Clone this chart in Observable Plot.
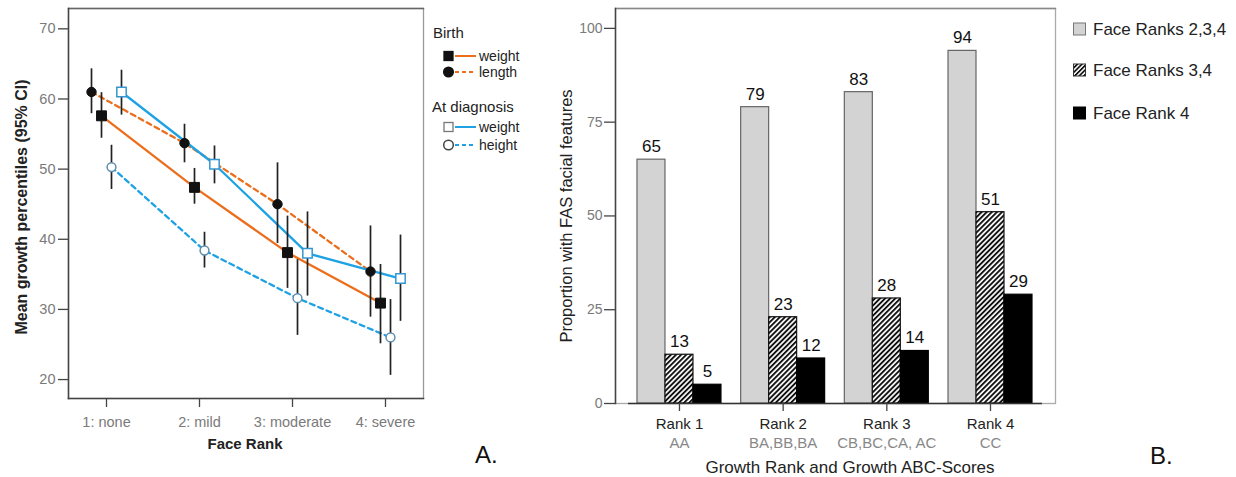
<!DOCTYPE html>
<html><head><meta charset="utf-8">
<script src="https://cdn.jsdelivr.net/npm/d3@7"></script>
<script src="https://cdn.jsdelivr.net/npm/@observablehq/plot@0.6"></script>
<style>
body{margin:0;background:#fff;font-family:"Liberation Sans",Arial,sans-serif;}
#root{position:relative;width:1236px;height:477px;overflow:hidden;background:#fff;}
.t{position:absolute;white-space:nowrap;line-height:1;}
svg{overflow:visible;}
</style></head><body><div id="root"></div>
<script>
// ---------- Panel A data ----------
const faceRanks = ["1: none", "2: mild", "3: moderate", "4: severe"];
const birthWeight   = [57.6, 47.4, 38.1, 30.9];
const birthWeightLo = [54.4, 45.0, 33.0, 25.1];
const birthWeightHi = [60.9, 50.1, 43.3, 36.4];
const birthLength   = [61.0, 53.7, 45.0, 35.4];
const birthLengthLo = [57.9, 50.9, 39.4, 28.9];
const birthLengthHi = [64.3, 56.4, 50.9, 41.9];
const diagWeight    = [61.0, 50.7, 38.0, 34.4];
const diagWeightLo  = [57.7, 47.9, 31.9, 28.3];
const diagWeightHi  = [64.1, 53.3, 43.9, 40.6];
const diagHeight    = [50.3, 38.4, 31.6, 26.0];
const diagHeightLo  = [47.1, 35.9, 26.3, 20.6];
const diagHeightHi  = [53.4, 41.0, 37.1, 31.4];
const yTicksA = [20, 30, 40, 50, 60, 70];

// ---------- Panel B data ----------
const growthRanks = ["Rank 1", "Rank 2", "Rank 3", "Rank 4"];
const abcScores = ["AA", "BA,BB,BA", "CB,BC,CA, AC", "CC"];
const barSeries = ["Face Ranks 2,3,4", "Face Ranks 3,4", "Face Rank 4"];
const faceRanks234 = [65, 79, 83, 94];
const faceRanks34  = [13, 23, 28, 51];
const faceRank4    = [5, 12, 14, 29];
const yTicksB = [0, 25, 50, 75, 100];

const root = document.getElementById("root");
const FONT = "Liberation Sans, Arial, sans-serif";
function addText(txt, x, y, css, anchor = "center") {
  const el = document.createElement("div");
  el.className = "t";
  el.textContent = txt;
  el.style.left = x + "px";
  el.style.top = y + "px";
  const tx = anchor === "center" ? "-50%" : anchor === "right" ? "-100%" : "0";
  el.style.transform = `translate(${tx},-50%)` + (css.rotate ? ` rotate(${css.rotate}deg)` : "");
  for (const k in css) if (k !== "rotate") el.style[k] = css[k];
  root.appendChild(el);
  return el;
}
function placeNode(node, x, y) {
  node.style.position = "absolute";
  node.style.left = x + "px";
  node.style.top = y + "px";
  root.appendChild(node);
}

// ---------- Panel A ----------
const orange = "#eb6e1c", blue = "#1ea2e4";
const seriesA = [
  {mean: birthLength, lo: birthLengthLo, hi: birthLengthHi, line: orange, dash: "5,4", symbol: "circle", r: 4.7, fill: "#111", stroke: "#111", sw: 1, dx: -15},
  {mean: birthWeight, lo: birthWeightLo, hi: birthWeightHi, line: orange, dash: null, symbol: "square", r: 5.6, fill: "#111", stroke: "#111", sw: 1, dx: -5},
  {mean: diagHeight, lo: diagHeightLo, hi: diagHeightHi, line: blue, dash: "5,4", symbol: "circle", r: 4.4, fill: "white", stroke: "#5f8eae", sw: 1.5, dx: 5},
  {mean: diagWeight, lo: diagWeightLo, hi: diagWeightHi, line: blue, dash: null, symbol: "square", r: 5.3, fill: "white", stroke: "#3696cf", sw: 1.5, dx: 15}
];
const rowsFor = s => faceRanks.map((rank, i) => ({rank, value: s.mean[i], lo: s.lo[i], hi: s.hi[i]}));
const marksA = [];
for (const s of seriesA) marksA.push(Plot.line(rowsFor(s), {x: "rank", y: "value", stroke: s.line, strokeWidth: 2.3, strokeDasharray: s.dash || undefined, dx: s.dx}));
for (const s of seriesA) marksA.push(Plot.ruleX(rowsFor(s), {x: "rank", y1: "lo", y2: "hi", stroke: "#222", strokeWidth: 1.7, dx: s.dx}));
for (const s of seriesA) marksA.push(Plot.dot(rowsFor(s), {x: "rank", y: "value", symbol: s.symbol, r: s.r, fill: s.fill, stroke: s.stroke, strokeWidth: s.sw, dx: s.dx}));

const chartA = Plot.plot({
  width: 440, height: 477,
  marginLeft: 68, marginRight: 17, marginTop: 8, marginBottom: 79,
  style: {fontFamily: FONT, fontSize: "14.5px", background: "transparent", color: "#222"},
  x: {type: "point", domain: faceRanks, padding: 0.4},
  y: {domain: [17.3, 72.9]},
  marks: [
    Plot.frame({stroke: "#999", strokeWidth: 1.3}),
    Plot.frame({anchor: "top", stroke: "#666", strokeWidth: 1.3}),
    Plot.frame({anchor: "left", stroke: "#444", strokeWidth: 1.5}),
    Plot.frame({anchor: "bottom", stroke: "#444", strokeWidth: 1.5}),
    Plot.axisY(yTicksA, {tickSize: 10, tickPadding: 3, stroke: "#444", fill: "#7a7a7a", label: null, strokeWidth: 1.3}),
    Plot.axisX(faceRanks, {tickSize: 9, tickPadding: 9, stroke: "#444", fill: "#7a7a7a", label: null, strokeWidth: 1.3}),
    ...marksA
  ]
});
placeNode(chartA, 0, 0);
addText("Mean growth percentiles (95% CI)", 22, 207, {fontSize: "16px", fontWeight: "bold", color: "#222", rotate: -90});
addText("Face Rank", 245, 443, {fontSize: "15px", fontWeight: "bold", color: "#222"});

// Legend A
(function () {
  const svg = d3.create("svg").attr("width", 120).attr("height", 170);
  const g = svg.append("g").attr("font-family", FONT).attr("font-size", 14).attr("fill", "#222");
  const ox = 425;
  g.append("text").attr("x", 433 - ox).attr("y", 33).attr("dy", "0.35em").attr("font-size", 15).text("Birth");
  g.append("text").attr("x", 432 - ox).attr("y", 107).attr("dy", "0.35em").attr("font-size", 15).text("At diagnosis");
  const items = [
    {y: 56, sym: "sq", fill: "#111", stroke: "#111", line: orange, dash: null, label: "weight"},
    {y: 72, sym: "ci", fill: "#111", stroke: "#111", line: orange, dash: "4,3", label: "length"},
    {y: 127, sym: "sq", fill: "white", stroke: "#777", line: blue, dash: null, label: "weight"},
    {y: 145, sym: "ci", fill: "white", stroke: "#444", line: blue, dash: "4,3", label: "height"}
  ];
  for (const it of items) {
    g.append("line").attr("x1", 455 - ox).attr("x2", 476 - ox).attr("y1", it.y).attr("y2", it.y)
      .attr("stroke", it.line).attr("stroke-width", 2).attr("stroke-dasharray", it.dash);
    if (it.sym === "sq") g.append("rect").attr("x", 444 - ox).attr("y", it.y - 4.5).attr("width", 9).attr("height", 9)
      .attr("fill", it.fill).attr("stroke", it.stroke).attr("stroke-width", 1.3);
    else g.append("circle").attr("cx", 448.5 - ox).attr("cy", it.y).attr("r", 4.8)
      .attr("fill", it.fill).attr("stroke", it.stroke).attr("stroke-width", 1.5);
    g.append("text").attr("x", 479 - ox).attr("y", it.y).attr("dy", "0.35em").text(it.label);
  }
  placeNode(svg.node(), ox, 0);
})();
addText("A.", 475, 455, {fontSize: "24px", color: "#111"}, "left");

// ---------- Panel B ----------
const barArrays = [faceRanks234, faceRanks34, faceRank4];
const barRows = [];
growthRanks.forEach((g, i) => barArrays.forEach((arr, s) => barRows.push({rank: i + 1, s, series: barSeries[s], value: arr[i]})));
const bw = 0.27; // bar width in rank units (grouped dodge)
const barStyle = [
  {fill: "#d3d3d3", stroke: "#666"},
  {fill: "url(#hatch)", stroke: "#111"},
  {fill: "#000", stroke: "#000"}
];
const hatchDefs = () => {
  const defs = d3.create("svg:defs");
  const p = defs.append("pattern").attr("id", "hatch").attr("patternUnits", "userSpaceOnUse")
    .attr("width", 3.6).attr("height", 3.6).attr("patternTransform", "rotate(45)");
  p.append("rect").attr("width", 3.6).attr("height", 3.6).attr("fill", "white");
  p.append("rect").attr("width", 1.9).attr("height", 3.6).attr("fill", "#111");
  return defs.node();
};
const xc = d => d.rank + (d.s - 1) * bw;
const chartB = Plot.plot({
  width: 570, height: 477,
  marginLeft: 115, marginRight: 15, marginTop: 8, marginBottom: 74,
  style: {fontFamily: FONT, fontSize: "14px", background: "transparent", color: "#222"},
  x: {domain: [0.383, 4.627]},
  y: {domain: [0, 105.3]},
  marks: [
    hatchDefs,
    Plot.frame({stroke: "#aaa", strokeWidth: 1.3}),
    Plot.frame({anchor: "top", stroke: "#888", strokeWidth: 1.3}),
    ...barStyle.map((st, s) => Plot.rectY(barRows.filter(d => d.s === s), {
      x1: d => xc(d) - bw / 2, x2: d => xc(d) + bw / 2, y1: 0, y2: "value",
      fill: st.fill, stroke: st.stroke, strokeWidth: 1.2
    })),
    Plot.ruleY([0], {stroke: "#333", strokeWidth: 1.6, insetLeft: 13, insetRight: 13}),
    Plot.frame({anchor: "left", stroke: "#444", strokeWidth: 1.5}),
    Plot.text(barRows, {x: xc, y: "value", text: d => String(d.value), dy: -13, fontSize: 17, fill: "#111"}),
    Plot.axisY(yTicksB, {tickSize: 11, tickPadding: 2, stroke: "#444", fill: "#7a7a7a", label: null, strokeWidth: 1.3}),
    Plot.axisX([1, 2, 3, 4], {tickFormat: i => growthRanks[i - 1], tickSize: 8, tickPadding: 7, stroke: "#444", fill: "#222", fontSize: 15, label: null, strokeWidth: 1.3}),
    Plot.axisX([1, 2, 3, 4], {tickFormat: i => abcScores[i - 1], tickSize: 0, tickPadding: 34, fill: "#888", fontSize: 15, label: null})
  ]
});
placeNode(chartB, 500, 0);
addText("Proportion with FAS facial features", 566, 216, {fontSize: "16.5px", color: "#222", rotate: -90});
addText("Growth Rank and Growth ABC-Scores", 850, 467, {fontSize: "17px", color: "#222"});

// Legend B
(function () {
  const svg = d3.create("svg").attr("width", 165).attr("height", 130);
  const ox = 1068;
  const defs = svg.append("defs");
  const p = defs.append("pattern").attr("id", "hatch2").attr("patternUnits", "userSpaceOnUse")
    .attr("width", 3.2).attr("height", 3.2).attr("patternTransform", "rotate(45)");
  p.append("rect").attr("width", 3.2).attr("height", 3.2).attr("fill", "white");
  p.append("rect").attr("width", 1.7).attr("height", 3.2).attr("fill", "#111");
  const fills = ["#d3d3d3", "url(#hatch2)", "#000"];
  const strokes = ["#777", "#333", "#000"];
  const ys = [29, 70, 113];
  barSeries.forEach((name, i) => {
    svg.append("rect").attr("x", 1073.5 - ox).attr("y", ys[i] - 6).attr("width", 12).attr("height", 12)
      .attr("fill", fills[i]).attr("stroke", strokes[i]).attr("stroke-width", 1);
    svg.append("text").attr("x", 1093 - ox).attr("y", ys[i]).attr("dy", "0.35em")
      .attr("font-family", FONT).attr("font-size", 17).attr("fill", "#222").text(name);
  });
  placeNode(svg.node(), ox, 0);
})();
addText("B.", 1150, 456, {fontSize: "24px", color: "#111"}, "left");
</script>
</body></html>
